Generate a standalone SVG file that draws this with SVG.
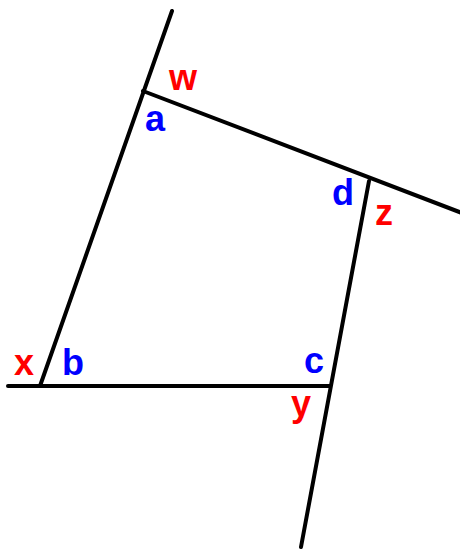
<svg xmlns="http://www.w3.org/2000/svg" width="460" height="549" viewBox="0 0 460 549">
<style>
.ln{stroke:#000;stroke-width:4;stroke-linecap:round;fill:none}
.t{font-family:"Liberation Sans",Arial,sans-serif;font-weight:bold;font-size:36px}
.r{fill:#ff0000}
.b{fill:#0000ff}
</style>
<rect width="460" height="549" fill="#fff"/>
<g id="lines">
<line class="ln" x1="172" y1="11" x2="40" y2="386"/>
<line class="ln" x1="143" y1="91" x2="462" y2="213"/>
<line class="ln" x1="369" y1="181" x2="301" y2="547"/>
<line class="ln" x1="8" y1="386" x2="330" y2="386"/>
</g>
<g id="labels">
<text class="t r" x="169" y="90">w</text>
<text class="t b" x="145" y="131">a</text>
<text class="t b" x="332" y="205">d</text>
<text class="t r" x="375" y="225">z</text>
<text class="t r" x="14" y="375">x</text>
<text class="t b" x="62" y="375">b</text>
<text class="t b" x="304" y="373">c</text>
<text class="t r" x="291" y="416">y</text>
</g>
</svg>
